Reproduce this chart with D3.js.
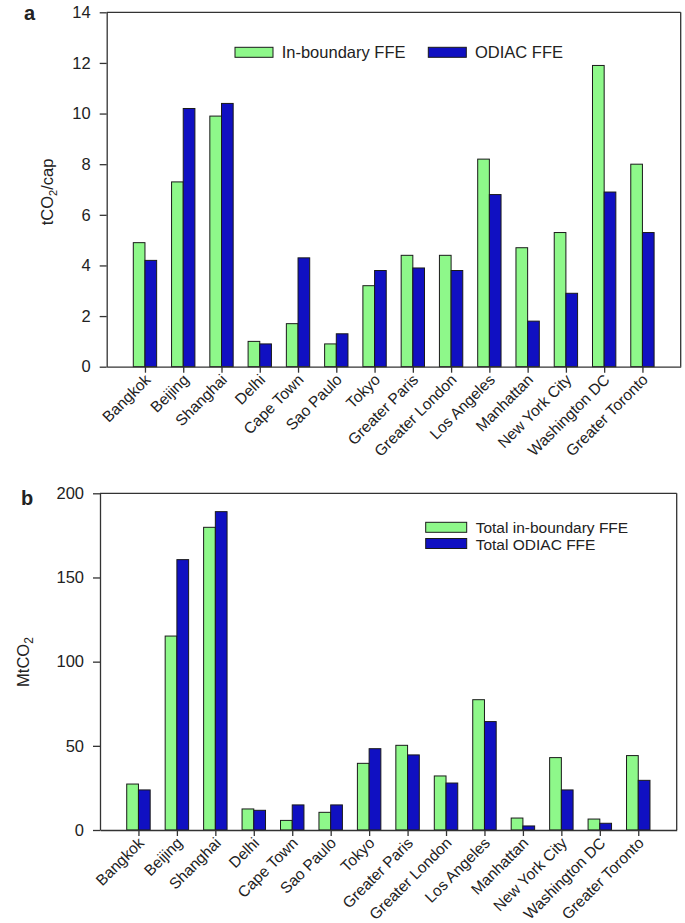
<!DOCTYPE html>
<html>
<head>
<meta charset="utf-8">
<script src="https://cdn.jsdelivr.net/npm/d3@7"></script>
<style>
  html, body { margin: 0; padding: 0; background: #fff; }
  svg { display: block; }
  text { font-family: "Liberation Sans", Arial, sans-serif; fill: #222; }
</style>
</head>
<body>
<svg id="chart" width="685" height="923"></svg>
<script>
// ---------- data ----------
const cities = ["Bangkok", "Beijing", "Shanghai", "Delhi", "Cape Town", "Sao Paulo", "Tokyo",
  "Greater Paris", "Greater London", "Los Angeles", "Manhattan", "New York City",
  "Washington DC", "Greater Toronto"];

// panel a: tCO2/cap
const perCapInBoundary = [4.9, 7.3, 9.9, 1.0, 1.7, 0.9, 3.2, 4.4, 4.4, 8.2, 4.7, 5.3, 11.9, 8.0];
const perCapODIAC      = [4.2, 10.2, 10.4, 0.9, 4.3, 1.3, 3.8, 3.9, 3.8, 6.8, 1.8, 2.9, 6.9, 5.3];
const perCapTicks = [0, 2, 4, 6, 8, 10, 12, 14];

// panel b: MtCO2
const totalInBoundary = [27.3, 115.2, 179.8, 12.5, 5.7, 10.5, 39.6, 50.3, 32.1, 77.4, 7.1, 43.0, 6.5, 44.2];
const totalODIAC      = [23.8, 160.6, 189.1, 11.7, 14.9, 14.9, 48.3, 44.6, 27.9, 64.4, 2.4, 23.8, 4.0, 29.5];
const totalTicks = [0, 50, 100, 150, 200];

const legendA = ["In-boundary FFE", "ODIAC FFE"];
const legendB = ["Total in-boundary FFE", "Total ODIAC FFE"];

// ---------- style ----------
const GREEN = "#8ef88a";
const BLUE = "#1010c2";
const EDGE = "#1a1a1a";
const AXIS = "#333";
const FS = 16.5;
const FSCAT = 15.5;

const svg = d3.select("#chart");

function panel(opts) {
  const { left, right, top, bottom, yMax, ticks, s1, s2 } = opts;
  const g = svg.append("g");
  const x = d3.scaleLinear().domain([0, cities.length + 1]).range([left, right]);
  const y = d3.scaleLinear().domain([0, yMax]).range([bottom, top]);
  const bw = x(0.305) - x(0);

  // frame (top + right)
  g.append("line").attr("x1", left).attr("x2", right).attr("y1", top).attr("y2", top)
    .attr("stroke", AXIS).attr("stroke-width", 1.3);
  g.append("line").attr("x1", right).attr("x2", right).attr("y1", top).attr("y2", bottom)
    .attr("stroke", AXIS).attr("stroke-width", 1.3);

  // bars
  cities.forEach((c, i) => {
    const cx = x(i + 1);
    g.append("rect").attr("x", cx - bw).attr("y", y(s1[i])).attr("width", bw)
      .attr("height", y(0) - y(s1[i])).attr("fill", GREEN).attr("stroke", EDGE).attr("stroke-width", 1);
    g.append("rect").attr("x", cx).attr("y", y(s2[i])).attr("width", bw)
      .attr("height", y(0) - y(s2[i])).attr("fill", BLUE).attr("stroke", EDGE).attr("stroke-width", 1);
  });

  // y axis
  const ya = g.append("g").attr("transform", `translate(${left},0)`)
    .call(d3.axisLeft(y).tickValues(ticks).tickSize(7).tickPadding(9).tickSizeOuter(0));
  ya.select(".domain").attr("stroke", AXIS).attr("stroke-width", 1.3);
  ya.selectAll(".tick line").attr("stroke", AXIS).attr("stroke-width", 1.3);
  ya.selectAll("text").style("font-size", FS + "px").attr("fill", "#222")
    .style("font-family", '"Liberation Sans", Arial, sans-serif');

  // x axis
  const xa = g.append("g").attr("transform", `translate(0,${bottom})`)
    .call(d3.axisBottom(x).tickValues(d3.range(1, cities.length + 1))
      .tickFormat(d => cities[d - 1]).tickSize(6).tickSizeOuter(0));
  xa.select(".domain").attr("stroke", AXIS).attr("stroke-width", 1.3);
  xa.selectAll(".tick line").attr("stroke", AXIS).attr("stroke-width", 1.3);
  xa.selectAll("text")
    .style("font-size", FSCAT + "px").attr("fill", "#222")
    .style("font-family", '"Liberation Sans", Arial, sans-serif')
    .attr("text-anchor", "end")
    .attr("dy", null).attr("y", 0)
    .attr("transform", "translate(6,14) rotate(-45)");
  return { g, x, y };
}

// ---------- panel a ----------
panel({ left: 106.7, right: 680.7, top: 12.3, bottom: 366.7, yMax: 14, ticks: perCapTicks,
  s1: perCapInBoundary, s2: perCapODIAC });

svg.append("text").attr("x", 24).attr("y", 20).text("a")
  .style("font-size", "20px").style("font-weight", "bold");

const tA = svg.append("text")
  .attr("transform", "translate(53,192) rotate(-90)")
  .attr("text-anchor", "middle").style("font-size", FS + "px");
tA.append("tspan").text("tCO");
tA.append("tspan").text("2").style("font-size", "11px").attr("dy", 4);
tA.append("tspan").text("/cap").attr("dy", -4);

// legend a
svg.append("rect").attr("x", 235).attr("y", 47.3).attr("width", 38).attr("height", 10)
  .attr("fill", GREEN).attr("stroke", EDGE);
svg.append("text").attr("x", 281.7).attr("y", 58).text(legendA[0]).style("font-size", FS + "px");
svg.append("rect").attr("x", 428.3).attr("y", 47.3).attr("width", 38).attr("height", 10)
  .attr("fill", BLUE).attr("stroke", EDGE);
svg.append("text").attr("x", 475).attr("y", 58).text(legendA[1]).style("font-size", FS + "px");

// ---------- panel b ----------
panel({ left: 100, right: 676.7, top: 493.3, bottom: 830, yMax: 200, ticks: totalTicks,
  s1: totalInBoundary, s2: totalODIAC });

svg.append("text").attr("x", 21).attr("y", 505).text("b")
  .style("font-size", "20px").style("font-weight", "bold");

const tB = svg.append("text")
  .attr("transform", "translate(29,662) rotate(-90)")
  .attr("text-anchor", "middle").style("font-size", FS + "px");
tB.append("tspan").text("MtCO");
tB.append("tspan").text("2").style("font-size", "12px").attr("dy", 4);

// legend b
svg.append("rect").attr("x", 425.7).attr("y", 522.3).attr("width", 41).attr("height", 10)
  .attr("fill", GREEN).attr("stroke", EDGE);
svg.append("text").attr("x", 475.7).attr("y", 533).text(legendB[0]).style("font-size", "15.5px");
svg.append("rect").attr("x", 425.7).attr("y", 538.5).attr("width", 41).attr("height", 10)
  .attr("fill", BLUE).attr("stroke", EDGE);
svg.append("text").attr("x", 475.7).attr("y", 549.5).text(legendB[1]).style("font-size", "15.5px");
</script>
</body>
</html>
